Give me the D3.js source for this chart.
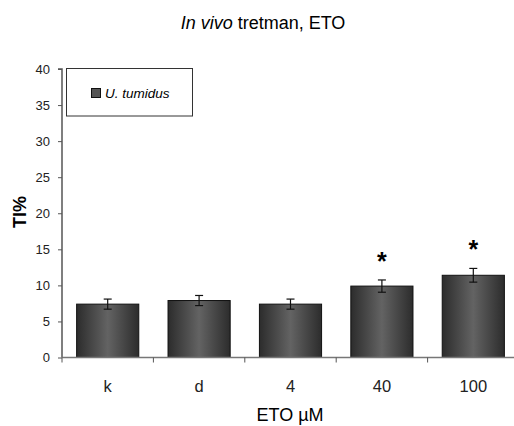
<!DOCTYPE html>
<html>
<head>
<meta charset="utf-8">
<script src="https://cdn.jsdelivr.net/npm/d3@7"></script>
<style>
  body { margin: 0; background: #fff; }
  text { font-family: "Liberation Sans", Arial, sans-serif; }
</style>
</head>
<body>
<div id="chart"></div>
<script>
// data
const categories = ['k', 'd', '4', '40', '100']
const values = [7.4, 7.9, 7.4, 9.9, 11.4]
const errors = [0.7, 0.7, 0.7, 0.85, 0.95]
const signif = [false, false, false, true, true]
const yTicks = [0, 5, 10, 15, 20, 25, 30, 35, 40]

const width = 514
const height = 426

const svg = d3.select('#chart').append('svg')
  .attr('width', width)
  .attr('height', height)

// gradient for bars
const grad = svg.append('defs').append('linearGradient')
  .attr('id', 'barGrad')
  .attr('x1', '0%').attr('x2', '100%').attr('y1', '0%').attr('y2', '0%')
grad.append('stop').attr('offset', '0%').attr('stop-color', '#2c2c2c')
grad.append('stop').attr('offset', '50%').attr('stop-color', '#636363')
grad.append('stop').attr('offset', '100%').attr('stop-color', '#2c2c2c')

let xScale = d3.scaleBand(categories, [62, 519]).paddingInner(0.32).paddingOuter(0.16)
let yScale = d3.scaleLinear([0, 40], [357.5, 69])

// title
svg.append('text')
  .attr('x', 263).attr('y', 29)
  .attr('text-anchor', 'middle')
  .attr('font-size', 18)
  .html('<tspan font-style="italic">In vivo</tspan> tretman, ETO')

// y axis
let yAxis = svg.append('g')
  .attr('transform', `translate(62,0)`)
  .call(d3.axisLeft(yScale).tickValues(yTicks).tickSize(4).tickPadding(8))
yAxis.select('.domain').attr('stroke', '#555').attr('stroke-width', 1.5).attr('d', `M-4,${yScale(40)}H0V${yScale(0)}`)
yAxis.selectAll('.tick line').attr('stroke', '#555')
yAxis.selectAll('.tick text').attr('font-size', 13).attr('fill', '#222')
  .style('font-family', '"Liberation Sans", Arial, sans-serif')

// bars
svg.selectAll('rect.bar').data(values).enter().append('rect')
  .attr('class', 'bar')
  .attr('x', (d, i) => xScale(categories[i]))
  .attr('y', d => yScale(d))
  .attr('width', xScale.bandwidth())
  .attr('height', d => yScale(0) - yScale(d))
  .attr('fill', 'url(#barGrad)')
  .attr('stroke', '#111')
  .attr('stroke-width', 1)

// x axis line + ticks at category boundaries
svg.append('line')
  .attr('x1', 62).attr('x2', width)
  .attr('y1', yScale(0)).attr('y2', yScale(0))
  .attr('stroke', '#777').attr('stroke-width', 1.5)
categories.forEach((c, i) => {
  let bx = 62 + i * xScale.step()
  svg.append('line')
    .attr('x1', bx).attr('x2', bx)
    .attr('y1', yScale(0)).attr('y2', yScale(0) + 5)
    .attr('stroke', '#555')
})
svg.selectAll('text.xlab').data(categories).enter().append('text')
  .attr('class', 'xlab')
  .attr('x', d => xScale(d) + xScale.bandwidth() / 2)
  .attr('y', 392)
  .attr('text-anchor', 'middle')
  .attr('font-size', 16.5)
  .attr('fill', '#222')
  .text(d => d)

// error bars
let cx = i => xScale(categories[i]) + xScale.bandwidth() / 2
values.forEach((v, i) => {
  let g = svg.append('g').attr('stroke', '#111').attr('stroke-width', 1.2)
  g.append('line').attr('x1', cx(i)).attr('x2', cx(i))
    .attr('y1', yScale(v + errors[i])).attr('y2', yScale(v - errors[i]))
  g.append('line').attr('x1', cx(i) - 4).attr('x2', cx(i) + 4)
    .attr('y1', yScale(v + errors[i])).attr('y2', yScale(v + errors[i]))
  g.append('line').attr('x1', cx(i) - 4).attr('x2', cx(i) + 4)
    .attr('y1', yScale(v - errors[i])).attr('y2', yScale(v - errors[i]))
  if (signif[i]) {
    svg.append('text')
      .attr('x', cx(i)).attr('y', yScale(v + errors[i]) - 10)
      .attr('text-anchor', 'middle')
      .attr('font-size', 25)
      .attr('font-weight', 'bold')
      .text('*')
  }
})

// axis titles
svg.append('text')
  .attr('transform', 'translate(26,212) rotate(-90)')
  .attr('text-anchor', 'middle')
  .attr('font-size', 18)
  .attr('font-weight', 'bold')
  .text('TI%')
svg.append('text')
  .attr('x', 290).attr('y', 421)
  .attr('text-anchor', 'middle')
  .attr('font-size', 18)
  .text('ETO µM')

// legend
let leg = svg.append('g')
leg.append('rect')
  .attr('x', 66.5).attr('y', 68.5).attr('width', 126).attr('height', 47.5)
  .attr('fill', '#fff').attr('stroke', '#333')
leg.append('rect')
  .attr('x', 91.5).attr('y', 88.5).attr('width', 9).attr('height', 9)
  .attr('fill', '#555').attr('stroke', '#111')
leg.append('text')
  .attr('x', 105).attr('y', 98)
  .attr('font-size', 13.5)
  .attr('font-style', 'italic')
  .text('U. tumidus')
</script>
</body>
</html>
